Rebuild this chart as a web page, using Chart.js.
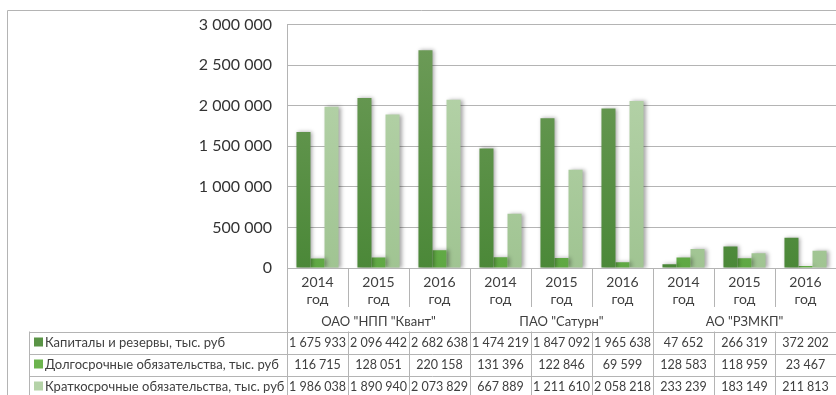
<!DOCTYPE html>
<html>
<head>
<meta charset="utf-8">
<script src="https://cdn.jsdelivr.net/npm/chart.js@4.4.1/dist/chart.umd.min.js"></script>
<style>
  html, body { margin: 0; padding: 0; background: #fff; }
  #wrap { width: 836px; height: 395px; position: relative; }
</style>
</head>
<body>
<div id="wrap"><canvas id="chart" width="836" height="395"></canvas></div>
<script>
// data from the table under the chart
var years = ["2014", "2015", "2016", "2014", "2015", "2016", "2014", "2015", "2016"];
var companies = ['ОАО "НПП "Квант"', 'ПАО "Сатурн"', 'АО "РЗМКП"'];
var seriesNames = [
    "Капиталы и резервы, тыс. руб",
    "Долгосрочные обязательства, тыс. руб",
    "Краткосрочные обязательства, тыс. руб"
];
var capital = [1675933, 2096442, 2682638, 1474219, 1847092, 1965638, 47652, 266319, 372202];
var longTerm = [116715, 128051, 220158, 131396, 122846, 69599, 128583, 118959, 23467];
var shortTerm = [1986038, 1890940, 2073829, 667889, 1211610, 2058218, 233239, 183149, 211813];
var yTicks = [0, 500000, 1000000, 1500000, 2000000, 2500000, 3000000];

var FONT = "Lato, 'Open Sans', sans-serif";
var TXT = '#404040';
var LINE = '#b4b4b4';
var keyColors = ['#5a9446', '#6cb44e', '#b5d3a8'];

function fmt(v) {
    return String(v).replace(/\B(?=(\d{3})+(?!\d))/g, ' ');
}

function grad(top, bottom) {
    return function(c) {
        var area = c.chart.chartArea;
        if (!area) return bottom;
        var g = c.chart.ctx.createLinearGradient(0, area.top, 0, area.bottom);
        g.addColorStop(0, top);
        g.addColorStop(1, bottom);
        return g;
    };
}

var shadowPlugin = {
    id: 'shadow',
    beforeDatasetsDraw: function(chart) {
        var ctx = chart.ctx;
        ctx.save();
        ctx.shadowColor = 'rgba(0,0,0,0.35)';
        ctx.shadowBlur = 4;
        ctx.shadowOffsetX = 2;
        ctx.shadowOffsetY = 0;
    },
    afterDatasetsDraw: function(chart) {
        chart.ctx.restore();
    }
};

var tablePlugin = {
    id: 'datatable',
    afterDraw: function(chart) {
        var ctx = chart.ctx;
        var x = chart.scales.x;
        var area = chart.chartArea;
        var n = years.length;
        var cw = (area.right - area.left) / n;
        var rowTop = 331.5, rowH = 22;
        var tableLeft = 29.5;

        ctx.save();
        ctx.strokeStyle = LINE;
        ctx.lineWidth = 1;

        // outer frame
        ctx.beginPath();
        ctx.moveTo(7.5, 395); ctx.lineTo(7.5, 10.5); ctx.lineTo(836, 10.5);
        ctx.stroke();

        // plot left border running through the table
        ctx.beginPath();
        ctx.moveTo(Math.round(area.left) + 0.5, area.top);
        ctx.lineTo(Math.round(area.left) + 0.5, 395);
        ctx.stroke();

        // category separators
        for (var i = 1; i < n; i++) {
            var bx = Math.round(area.left + i * cw) + 0.5;
            ctx.beginPath();
            if (i % 3 === 0) {
                ctx.moveTo(bx, area.bottom); ctx.lineTo(bx, 395);
            } else {
                ctx.moveTo(bx, area.bottom); ctx.lineTo(bx, 307);
                ctx.moveTo(bx, rowTop); ctx.lineTo(bx, 395);
            }
            ctx.stroke();
        }

        // table rows
        ctx.beginPath();
        for (var r = 0; r < 3; r++) {
            var ry = Math.round(rowTop + r * rowH) + 0.5;
            ctx.moveTo(tableLeft, ry); ctx.lineTo(836, ry);
        }
        ctx.moveTo(tableLeft, rowTop); ctx.lineTo(tableLeft, 395);
        ctx.stroke();

        // company names
        ctx.fillStyle = TXT;
        ctx.font = '13px ' + FONT;
        ctx.textAlign = 'center';
        ctx.textBaseline = 'middle';
        companies.forEach(function(name, k) {
            var cx = (x.getPixelForValue(k * 3) + x.getPixelForValue(k * 3 + 2)) / 2;
            ctx.fillText(name, cx, 322);
        });

        // series rows
        var rows = [capital, longTerm, shortTerm];
        rows.forEach(function(vals, r) {
            var cy = rowTop + r * rowH + rowH / 2;
            ctx.fillStyle = keyColors[r];
            ctx.fillRect(34, cy - 5, 9, 9);
            ctx.fillStyle = TXT;
            ctx.font = '13px ' + FONT;
            ctx.textAlign = 'left';
            ctx.fillText(seriesNames[r], 45, cy);
            ctx.textAlign = 'center';
            ctx.font = '12.5px ' + FONT;
            vals.forEach(function(v, i) {
                ctx.fillText(fmt(v), x.getPixelForValue(i), cy);
            });
        });
        ctx.restore();
    }
};

var ctx = document.getElementById("chart").getContext('2d');
var mychart = new Chart(ctx, {
    type: 'bar',
    data: {
        labels: years.map(function(y) { return [y, "год"]; }),
        datasets: [{
            label: seriesNames[0],
            data: capital,
            backgroundColor: grad('#6f9c5a', '#4b8838')
        },
        {
            label: seriesNames[1],
            data: longTerm,
            backgroundColor: grad('#7cc05f', '#5fa843')
        },
        {
            label: seriesNames[2],
            data: shortTerm,
            backgroundColor: grad('#bad6ae', '#a0c492')
        }]
    },
    options: {
        responsive: false,
        animation: false,
        events: [],
        layout: { padding: { top: 21, right: 0, left: 0, bottom: 0 } },
        datasets: {
            bar: { categoryPercentage: 0.69, barPercentage: 1.0, borderWidth: 0 }
        },
        plugins: {
            legend: { display: false },
            tooltip: { enabled: false }
        },
        scales: {
            x: {
                afterFit: function(s) { s.height = 127; },
                grid: { display: false },
                border: { display: true, color: LINE, width: 1 },
                ticks: {
                    color: TXT,
                    font: { family: FONT, size: 14, lineHeight: 1.2 },
                    padding: -2,
                    maxRotation: 0,
                    autoSkip: false
                }
            },
            y: {
                min: 0,
                max: 3000000,
                afterFit: function(s) { s.width = 287; },
                afterBuildTicks: function(s) {
                    s.ticks = yTicks.map(function(v) { return { value: v }; });
                },
                grid: { color: LINE, drawTicks: false },
                border: { display: true, color: LINE },
                ticks: {
                    color: '#333',
                    font: { family: FONT, size: 16 },
                    padding: 15,
                    callback: function(v) { return fmt(v); }
                }
            }
        }
    },
    plugins: [shadowPlugin, tablePlugin]
});
</script>
</body>
</html>
